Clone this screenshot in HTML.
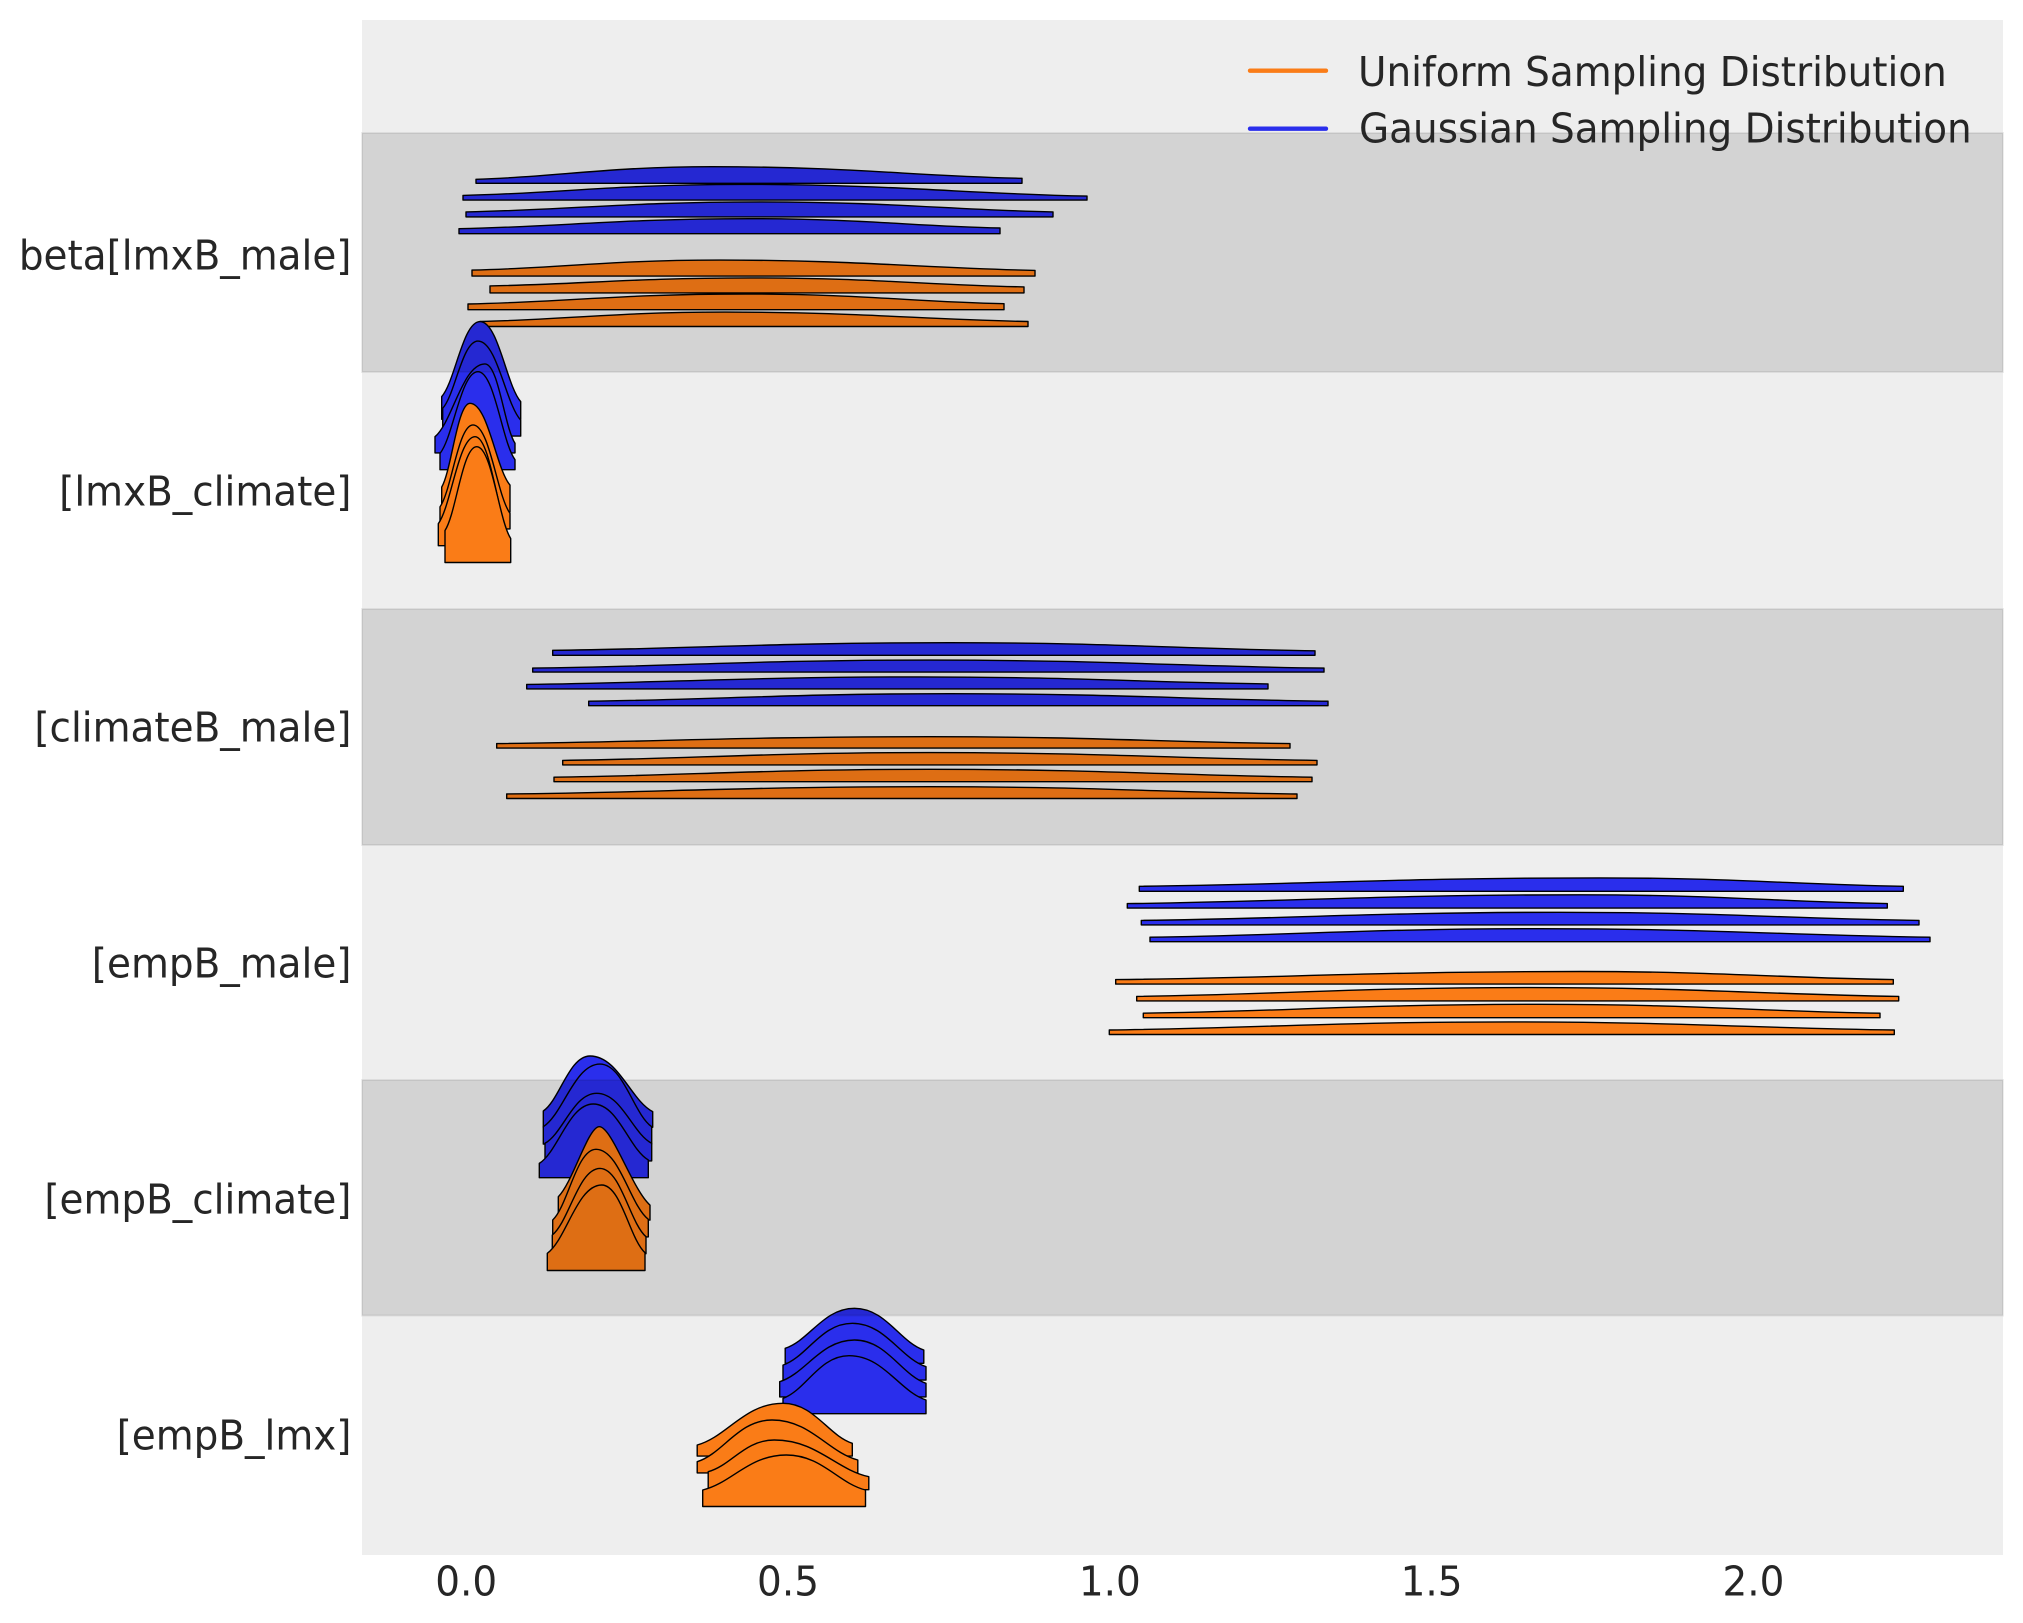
<!DOCTYPE html>
<html>
<head>
<meta charset="utf-8">
<style>
  html, body { margin: 0; padding: 0; background: #ffffff; }
  body { width: 2023px; height: 1623px; overflow: hidden; }
  svg { display: block; }
  .t { font-family: "DejaVu Sans", "Liberation Sans", sans-serif; font-size: 41px; fill: #262626; }
  .b { fill: #2a2eec; stroke: #000; stroke-width: 1.4; stroke-linejoin: round; }
  .o { fill: #fa7c17; stroke: #000; stroke-width: 1.4; stroke-linejoin: round; }
</style>
</head>
<body>
<svg width="2023" height="1623" viewBox="0 0 2023 1623" xmlns="http://www.w3.org/2000/svg">
  <rect x="0" y="0" width="2023" height="1623" fill="#ffffff"/>
  <!-- plot background -->
  <rect x="362" y="20" width="1641" height="1535" fill="#eeeeee"/>

  <!-- beta[lmxB_male] -->
  <path class="b" d="M476,183.3 L476,179.3 C558.6,176.8 605.8,166.7 712,166.7 C851.5,166.7 913.5,176 1022,178.3 L1022,183.3Z"/>
  <path class="b" d="M463,200.1 L463,195.4 C560,193.2 615.3,184.4 740,184.4 C896.2,184.4 965.5,193.8 1087,196.1 L1087,200.1Z"/>
  <path class="b" d="M466,216.9 L466,211.9 C568.9,209.9 627.7,201.9 760,201.9 C891.9,201.9 950.4,209.9 1053,211.9 L1053,216.9Z"/>
  <path class="b" d="M459,233.7 L459,228.7 C560.9,226.7 619,218.7 750,218.7 C862.5,218.7 912.5,226.1 1000,228 L1000,233.7Z"/>
  <path class="o" d="M472,276.1 L472,270.1 C558.8,268.1 608.4,260.1 720,260.1 C861.8,260.1 924.7,268.3 1035,270.4 L1035,276.1Z"/>
  <path class="o" d="M490,292.9 L490,285.9 C581,284.3 633,277.9 750,277.9 C873.3,277.9 928.1,285.1 1024,286.9 L1024,292.9Z"/>
  <path class="o" d="M468,309.7 L468,304 C565,302 620.3,294 745,294 C861.6,294 913.3,301.8 1004,303.7 L1004,309.7Z"/>
  <path class="o" d="M480,326.5 L480,321.5 C565.8,319.6 614.7,312.1 725,312.1 C861.4,312.1 922,319.6 1028,321.5 L1028,326.5Z"/>

  <!-- [lmxB_climate] -->
  <path class="b" d="M441.7,419.3 L441.7,396.6 C455.1,381.6 462.8,321.6 480,321.6 C498.3,321.6 506.5,385.6 520.7,401.6 L520.7,419.3Z"/>
  <path class="b" d="M442.7,436.1 L442.7,408.3 C455.1,394.9 462.1,341.1 478,341.1 C497.2,341.1 505.8,404.3 520.7,420.1 L520.7,436.1Z"/>
  <path class="b" d="M435,452.9 L435,436.7 C452.5,422.1 462.5,363.9 485,363.9 C498.5,363.9 504.5,427.4 515,443.3 L515,452.9Z"/>
  <path class="b" d="M440,469.7 L440,453.4 C453.3,437.1 460.9,371.7 478,371.7 C494.7,371.7 502,442.1 515,459.7 L515,469.7Z"/>
  <path class="o" d="M441.7,512.1 L441.7,487.1 C451.6,470.3 457.3,403.3 470,403.3 C488,403.3 496,468.7 510,485.1 L510,512.1Z"/>
  <path class="o" d="M440,528.9 L440,506.9 C451.6,490.5 458.1,424.9 473,424.9 C489.7,424.9 497,495.6 510,513.3 L510,528.9Z"/>
  <path class="o" d="M438.3,545.7 L438.3,523.7 C451.1,506.3 458.5,436.7 475,436.7 C490.8,436.7 497.7,518.3 510,538.7 L510,545.7Z"/>
  <path class="o" d="M445,562.5 L445,530.5 C456.1,513.7 462.4,446.7 476.7,446.7 C492,446.7 498.8,520.1 510.7,538.5 L510.7,562.5Z"/>

  <!-- [climateB_male] -->
  <path class="b" d="M552.7,655.3 L552.7,650.3 C691.7,648.8 771.2,642.7 950,642.7 C1114.3,642.7 1187.2,649.2 1315,650.8 L1315,655.3Z"/>
  <path class="b" d="M532.7,672.1 L532.7,668.1 C671.7,666.5 751.2,660.1 930,660.1 C1107.3,660.1 1186.1,666.5 1324,668.1 L1324,672.1Z"/>
  <path class="b" d="M526.7,688.9 L526.7,684.4 C664.4,682.9 743,676.9 920,676.9 C1076.6,676.9 1146.2,682.5 1268,683.9 L1268,688.9Z"/>
  <path class="b" d="M588.7,705.7 L588.7,701.2 C715.2,699.7 787.4,693.7 950,693.7 C1120.1,693.7 1195.7,699.7 1328,701.2 L1328,705.7Z"/>
  <path class="o" d="M496.7,748.1 L496.7,743.6 C648.4,742.2 735,736.7 930,736.7 C1092,736.7 1164,742.2 1290,743.6 L1290,748.1Z"/>
  <path class="o" d="M562.7,764.9 L562.7,760.4 C691.3,758.8 764.7,752.6 930,752.6 C1104.2,752.6 1181.5,758.8 1317,760.4 L1317,764.9Z"/>
  <path class="o" d="M554,781.7 L554,777.2 C685.6,775.6 760.8,769.3 930,769.3 C1101.9,769.3 1178.3,775.6 1312,777.2 L1312,781.7Z"/>
  <path class="o" d="M506.7,798.5 L506.7,794 C654.9,792.5 739.5,786.7 930,786.7 C1095.2,786.7 1168.5,792.5 1297,794 L1297,798.5Z"/>

  <!-- [empB_male] -->
  <path class="b" d="M1139.3,891.3 L1139.3,886.3 C1300.5,884.6 1392.7,877.9 1600,877.9 C1736.5,877.9 1797.1,884.6 1903.3,886.3 L1903.3,891.3Z"/>
  <path class="b" d="M1127.3,908.1 L1127.3,903.6 C1285.7,901.8 1376.3,894.8 1580,894.8 C1718.3,894.8 1779.7,901.8 1887.3,903.6 L1887.3,908.1Z"/>
  <path class="b" d="M1141.3,924.9 L1141.3,920.4 C1287.8,918.8 1371.6,912.3 1560,912.3 C1721.6,912.3 1793.3,918.8 1919,920.4 L1919,924.9Z"/>
  <path class="b" d="M1150,941.7 L1150,937.2 C1286.5,935.5 1364.5,928.7 1540,928.7 C1715.5,928.7 1793.5,935.5 1930,937.2 L1930,941.7Z"/>
  <path class="o" d="M1115.7,984.1 L1115.7,979.6 C1278.2,978 1371.1,971.5 1580,971.5 C1721,971.5 1783.6,978 1893.3,979.6 L1893.3,984.1Z"/>
  <path class="o" d="M1136.7,1000.9 L1136.7,996.4 C1274.4,994.6 1353,987.6 1530,987.6 C1695.9,987.6 1769.7,994.6 1898.7,996.4 L1898.7,1000.9Z"/>
  <path class="o" d="M1143.3,1017.7 L1143.3,1013.2 C1282.1,1011.4 1361.5,1004.3 1540,1004.3 C1693,1004.3 1761,1011.4 1880,1013.2 L1880,1017.7Z"/>
  <path class="o" d="M1109.3,1034.5 L1109.3,1030 C1249.5,1028.4 1329.7,1021.9 1510,1021.9 C1682.9,1021.9 1759.8,1028.4 1894.3,1030 L1894.3,1034.5Z"/>

  <!-- [empB_climate] -->
  <path class="b" d="M543.3,1127.3 L543.3,1111 C559.6,1100 569,1056 590,1056 C618.2,1056 630.8,1100.5 652.7,1111.6 L652.7,1127.3Z"/>
  <path class="b" d="M543.3,1144.1 L543.3,1126.7 C563.1,1114.2 574.5,1064.1 600,1064.1 C623.3,1064.1 633.6,1114.2 651.7,1126.7 L651.7,1144.1Z"/>
  <path class="b" d="M545,1160.9 L545,1143.3 C563.1,1133.3 573.4,1093.3 596.7,1093.3 C621.5,1093.3 632.4,1133.3 651.7,1143.3 L651.7,1160.9Z"/>
  <path class="b" d="M539.3,1177.7 L539.3,1163.4 C558.2,1151.5 569,1104 593.3,1104 C618.1,1104 629,1148.8 648.3,1160 L648.3,1177.7Z"/>
  <path class="o" d="M558.3,1220.1 L558.3,1196.7 C572.7,1182.7 588,1126.7 599.3,1126.7 C612,1126.7 632.3,1189.4 650,1205.1 L650,1220.1Z"/>
  <path class="o" d="M552.7,1236.9 L552.7,1220 C567.9,1205.9 576.5,1149.3 596,1149.3 C619.5,1149.3 630,1205.3 648.3,1219.3 L648.3,1236.9Z"/>
  <path class="o" d="M552.3,1253.7 L552.3,1235 C569,1221.7 578.5,1168.4 600,1168.4 C620.7,1168.4 629.9,1223 646,1236.7 L646,1253.7Z"/>
  <path class="o" d="M547.3,1270.5 L547.3,1253.3 C566.3,1239.6 577.2,1185 601.7,1185 C621.2,1185 629.8,1239.2 645,1252.7 L645,1270.5Z"/>

  <!-- [empB_lmx] -->
  <path class="b" d="M785.2,1363.3 L785.2,1348.3 C809.5,1340.3 823.3,1308.3 854.5,1308.3 C885.7,1308.3 899.5,1341.7 923.8,1350 L923.8,1363.3Z"/>
  <path class="b" d="M783,1380.1 L783,1365.1 C807.3,1356.7 821.1,1323.3 852.3,1323.3 C885.5,1323.3 900.2,1358 926,1366.7 L926,1380.1Z"/>
  <path class="b" d="M779.7,1396.9 L779.7,1381.7 C805.9,1373.4 820.8,1340 854.5,1340 C886.7,1340 901,1374.6 926,1383.3 L926,1396.9Z"/>
  <path class="b" d="M783,1413.7 L783,1398.4 C806.1,1389.9 819.3,1355.7 849,1355.7 C883.7,1355.7 899,1391.1 926,1400 L926,1413.7Z"/>
  <path class="o" d="M697.2,1456.1 L697.2,1445 C727.2,1436.7 744.4,1403.3 783,1403.3 C814.2,1403.3 828,1435.3 852.3,1443.3 L852.3,1456.1Z"/>
  <path class="o" d="M697.2,1472.9 L697.2,1461.7 C723.4,1453.4 738.3,1420 772,1420 C810.6,1420 827.8,1452 857.8,1460 L857.8,1472.9Z"/>
  <path class="o" d="M708.2,1489.7 L708.2,1471.7 C731.3,1465.4 744.5,1440 774.2,1440 C816.8,1440 835.7,1469.4 868.8,1476.7 L868.8,1489.7Z"/>
  <path class="o" d="M702.7,1506.5 L702.7,1490 C732,1483 748.7,1455 786.3,1455 C821.9,1455 837.8,1483 865.5,1490 L865.5,1506.5Z"/>

  <!-- shaded bands (drawn over the ridges) -->
  <g fill="rgba(0,0,0,0.109)" stroke="rgba(0,0,0,0.07)" stroke-width="2">
    <rect x="362" y="133" width="1641" height="239"/>
    <rect x="362" y="609" width="1641" height="236"/>
    <rect x="362" y="1080" width="1641" height="235.5"/>
  </g>

  <!-- legend -->
  <line x1="1250" y1="70.7" x2="1326" y2="70.7" stroke="#fa7c17" stroke-width="4.3" stroke-linecap="round"/>
  <line x1="1250" y1="128.7" x2="1326" y2="128.7" stroke="#2a2eec" stroke-width="4.3" stroke-linecap="round"/>
  <text class="t" transform="translate(1358,86) scale(0.95,1)">Uniform Sampling Distribution</text>
  <text class="t" transform="translate(1359,142.5) scale(0.95,1)">Gaussian Sampling Distribution</text>

  <!-- y labels -->
  <g text-anchor="end">
    <text class="t" transform="translate(351.5,269.4) scale(0.95,1)">beta[lmxB_male]</text>
    <text class="t" transform="translate(351.5,505.4) scale(0.95,1)">[lmxB_climate]</text>
    <text class="t" transform="translate(351.5,741.4) scale(0.95,1)">[climateB_male]</text>
    <text class="t" transform="translate(351.5,977.4) scale(0.95,1)">[empB_male]</text>
    <text class="t" transform="translate(351.5,1213.4) scale(0.95,1)">[empB_climate]</text>
    <text class="t" transform="translate(351.5,1449.4) scale(0.95,1)">[empB_lmx]</text>
  </g>

  <!-- x tick labels -->
  <g text-anchor="middle">
    <text class="t" transform="translate(466.2,1595.7) scale(0.95,1)">0.0</text>
    <text class="t" transform="translate(788,1595.7) scale(0.95,1)">0.5</text>
    <text class="t" transform="translate(1109.8,1595.7) scale(0.95,1)">1.0</text>
    <text class="t" transform="translate(1431.6,1595.7) scale(0.95,1)">1.5</text>
    <text class="t" transform="translate(1753.4,1595.7) scale(0.95,1)">2.0</text>
  </g>
</svg>
</body>
</html>
